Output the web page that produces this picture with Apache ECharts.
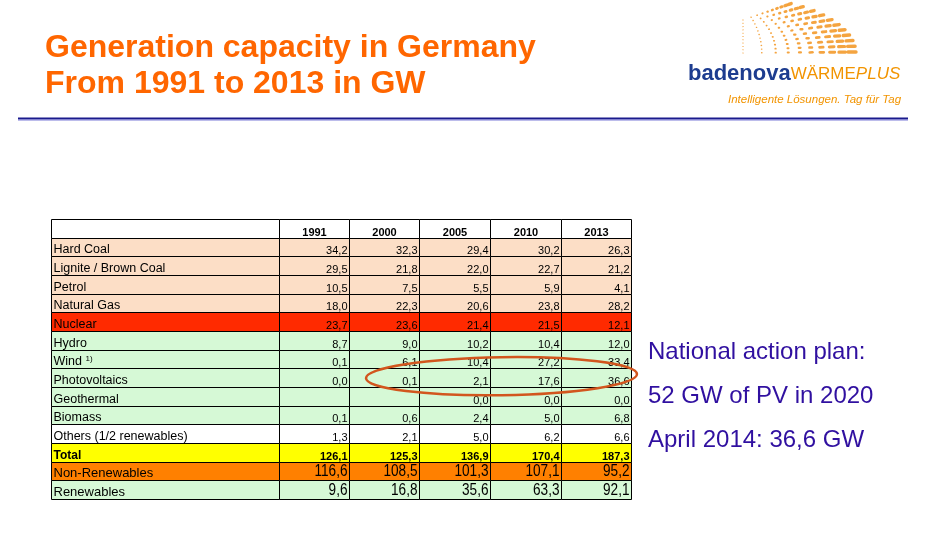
<!DOCTYPE html>
<html>
<head>
<meta charset="utf-8">
<script src="https://cdn.jsdelivr.net/npm/echarts@6/dist/echarts.min.js"></script>
<style>html,body{margin:0;padding:0;background:#fff}#c{width:948px;height:546px}</style>
</head>
<body>
<div id="c"></div>
<script>
// ---- data ----
var years = ['1991', '2000', '2005', '2010', '2013'];
var rowLabels = ['Hard Coal', 'Lignite / Brown Coal', 'Petrol', 'Natural Gas', 'Nuclear', 'Hydro', 'Wind', 'Photovoltaics', 'Geothermal', 'Biomass', 'Others (1/2 renewables)', 'Total', 'Non-Renewables', 'Renewables'];
var hardCoal = [34.2, 32.3, 29.4, 30.2, 26.3];
var lignite = [29.5, 21.8, 22.0, 22.7, 21.2];
var petrol = [10.5, 7.5, 5.5, 5.9, 4.1];
var naturalGas = [18.0, 22.3, 20.6, 23.8, 28.2];
var nuclear = [23.7, 23.6, 21.4, 21.5, 12.1];
var hydro = [8.7, 9.0, 10.2, 10.4, 12.0];
var wind = [0.1, 6.1, 10.4, 27.2, 33.4];
var photovoltaics = [0.0, 0.1, 2.1, 17.6, 36.6];
var geothermal = [null, null, 0.0, 0.0, 0.0];
var biomass = [0.1, 0.6, 2.4, 5.0, 6.8];
var others = [1.3, 2.1, 5.0, 6.2, 6.6];
var total = [126.1, 125.3, 136.9, 170.4, 187.3];
var nonRenewables = [116.6, 108.5, 101.3, 107.1, 95.2];
var renewables = [9.6, 16.8, 35.6, 63.3, 92.1];
var notes = ['National action plan:', '52 GW of PV in 2020', 'April 2014: 36,6 GW'];

var rowValues = [hardCoal, lignite, petrol, naturalGas, nuclear, hydro, wind, photovoltaics, geothermal, biomass, others, total, nonRenewables, renewables];

// ---- layout / style ----
var colEdges = [0, 228, 298, 368, 439, 510, 580];
var PEACH = '#FCDEC6', GREEN = '#D6F9D6';
var rowFill = ['#FFFFFF', PEACH, PEACH, PEACH, PEACH, '#FF2A00', GREEN, GREEN, GREEN, GREEN, GREEN, '#FFFFFF', '#FFFF00', '#FF8000', GREEN];
var FF = "Arial, 'Liberation Sans', sans-serif";

function fmt(v) { return v == null ? '' : v.toFixed(1).replace('.', ','); }

var cells = [];
for (var r = 0; r <= rowLabels.length; r++) {
  for (var c = 0; c < 6; c++) cells.push([c, r]);
}

function renderItem(params, api) {
  var col = api.value(0), row = api.value(1);
  var p0 = api.coord([colEdges[col], row]);
  var p1 = api.coord([colEdges[col + 1], row + 1]);
  var x0 = Math.round(p0[0]) + 0.5, x1 = Math.round(p1[0]) + 0.5;
  var y0 = Math.round(p0[1]) + 0.5, y1 = Math.round(p1[1]) + 0.5;
  var children = [{
    type: 'rect',
    shape: { x: x0, y: y0, width: x1 - x0, height: y1 - y0 },
    style: { fill: rowFill[row], stroke: '#000', lineWidth: 1 }
  }];
  var text = '', font = '11px ' + FF, align = 'right', tx = x1 - 2, rich = null, sx = 1;
  if (row === 0) {
    if (col > 0) { text = years[col - 1]; font = 'bold 11px ' + FF; align = 'center'; tx = (x0 + x1) / 2; }
  } else {
    var ri = row - 1;
    if (col === 0) {
      text = rowLabels[ri]; align = 'left'; tx = x0 + 2;
      font = (ri >= 12 ? '13px ' : '12.5px ') + FF;
      if (ri === 11) font = 'bold 12px ' + FF;
      if (rowLabels[ri] === 'Wind') {
        text = '{a|Wind} {s|1)}';
        rich = { a: { font: '12.5px ' + FF, fill: '#000' }, s: { font: '8px ' + FF, fill: '#000', verticalAlign: 'top', padding: [0, 0, 5, 0] } };
      }
    } else {
      text = fmt(rowValues[ri][col - 1]);
      if (ri === 11) font = 'bold 11px ' + FF;
      if (ri >= 12) { font = '16px ' + FF; sx = 0.85; }
    }
  }
  if (text) {
    var st = { text: text, x: 0, y: 0, align: align, verticalAlign: 'bottom', font: font, fill: '#000' };
    if (rich) st.rich = rich;
    children.push({ type: 'text', x: tx, y: y1 - 0.5, scaleX: sx, style: st });
  }
  return { type: 'group', children: children };
}

// logo fan pattern (decoration)
var fan = [];
var NI = 11, NJ = 10;
for (var i = 0; i < NI; i++) {
  var v = i / (NI - 1);
  var Lx = 743, Ly = 20 + 33 * v;
  var Rx = 790 + 62 * (1 - (1 - v) * (1 - v)), Ry = 4 + 48 * Math.pow(v, 1.2);
  var ang = -Math.atan2(Ry - Ly, Rx - Lx);
  for (var j = 0; j < NJ; j++) {
    var u = Math.pow(j / (NJ - 1), 0.8);
    var px = Lx + (Rx - Lx) * u, py = Ly + (Ry - Ly) * u;
    var w = 1.4 + 10 * u * u * (0.45 + 0.55 * v), h = 1 + 2.4 * u;
    fan.push({
      type: 'rect', x: px, y: py, rotation: ang,
      shape: { x: -w / 2, y: -h / 2, width: w, height: h, r: h / 2 },
      style: { fill: '#F39A2B', opacity: 0.9 }
    });
  }
}

var chart = echarts.init(document.getElementById('c'), null, { renderer: 'canvas' });
var graphics = [
  { type: 'text', style: { text: 'Generation capacity in Germany', x: 45, y: 48, verticalAlign: 'middle', font: 'bold 32px ' + FF, fill: '#FF6600' } },
  { type: 'text', style: { text: 'From 1991 to 2013 in GW', x: 45, y: 84, verticalAlign: 'middle', font: 'bold 32px ' + FF, fill: '#FF6600' } },
  { type: 'rect', shape: { x: 18, y: 117.5, width: 890, height: 2 }, style: { fill: '#1A1A8C' } },
  { type: 'rect', shape: { x: 18, y: 119.5, width: 890, height: 1 }, style: { fill: '#7A7AD8' } },
  { type: 'text', style: { text: '{b|badenova}{w|WÄRME}{p|PLUS}', x: 688, y: 74, verticalAlign: 'middle',
      rich: { b: { font: 'bold 22px ' + FF, fill: '#1D3C8F' }, w: { font: '17px ' + FF, fill: '#F29400' }, p: { font: 'italic 17px ' + FF, fill: '#F29400' } } } },
  { type: 'text', style: { text: 'Intelligente Lösungen. Tag für Tag', x: 728, y: 100, verticalAlign: 'middle', font: 'italic 11.5px ' + FF, fill: '#F29400' } },
  { type: 'group', children: fan }
];
notes.forEach(function (t, k) {
  graphics.push({ type: 'text', style: { text: t, x: 648, y: 352 + 44 * k, verticalAlign: 'middle', font: '24px ' + FF, fill: '#3010A0' } });
});

chart.setOption({
  animation: false,
  grid: { left: 51, top: 219, width: 580, height: 280 },
  xAxis: { type: 'value', min: 0, max: 580, show: false },
  yAxis: { type: 'value', min: 0, max: 15, inverse: true, show: false },
  series: [{ type: 'custom', renderItem: renderItem, data: cells, clip: false }],
  graphic: graphics
});

// annotation ellipse around the PV row (2000–2013)
var pvRow = rowLabels.indexOf('Photovoltaics') + 1;
var leftE = chart.convertToPixel({ gridIndex: 0 }, [colEdges[2] + 17, pvRow + 0.42]);
var rightE = chart.convertToPixel({ gridIndex: 0 }, [colEdges[6] + 6, pvRow + 0.42]);
var cx = (leftE[0] + rightE[0]) / 2, rx = (rightE[0] - leftE[0]) / 2;
graphics.push({ type: 'ellipse', x: cx, y: leftE[1], rotation: 0.015,
  shape: { cx: 0, cy: 0, rx: rx, ry: 19 },
  style: { fill: 'none', stroke: '#D2561E', lineWidth: 2.5 }, z: 100 });
chart.setOption({ graphic: graphics });
</script>
</body>
</html>
